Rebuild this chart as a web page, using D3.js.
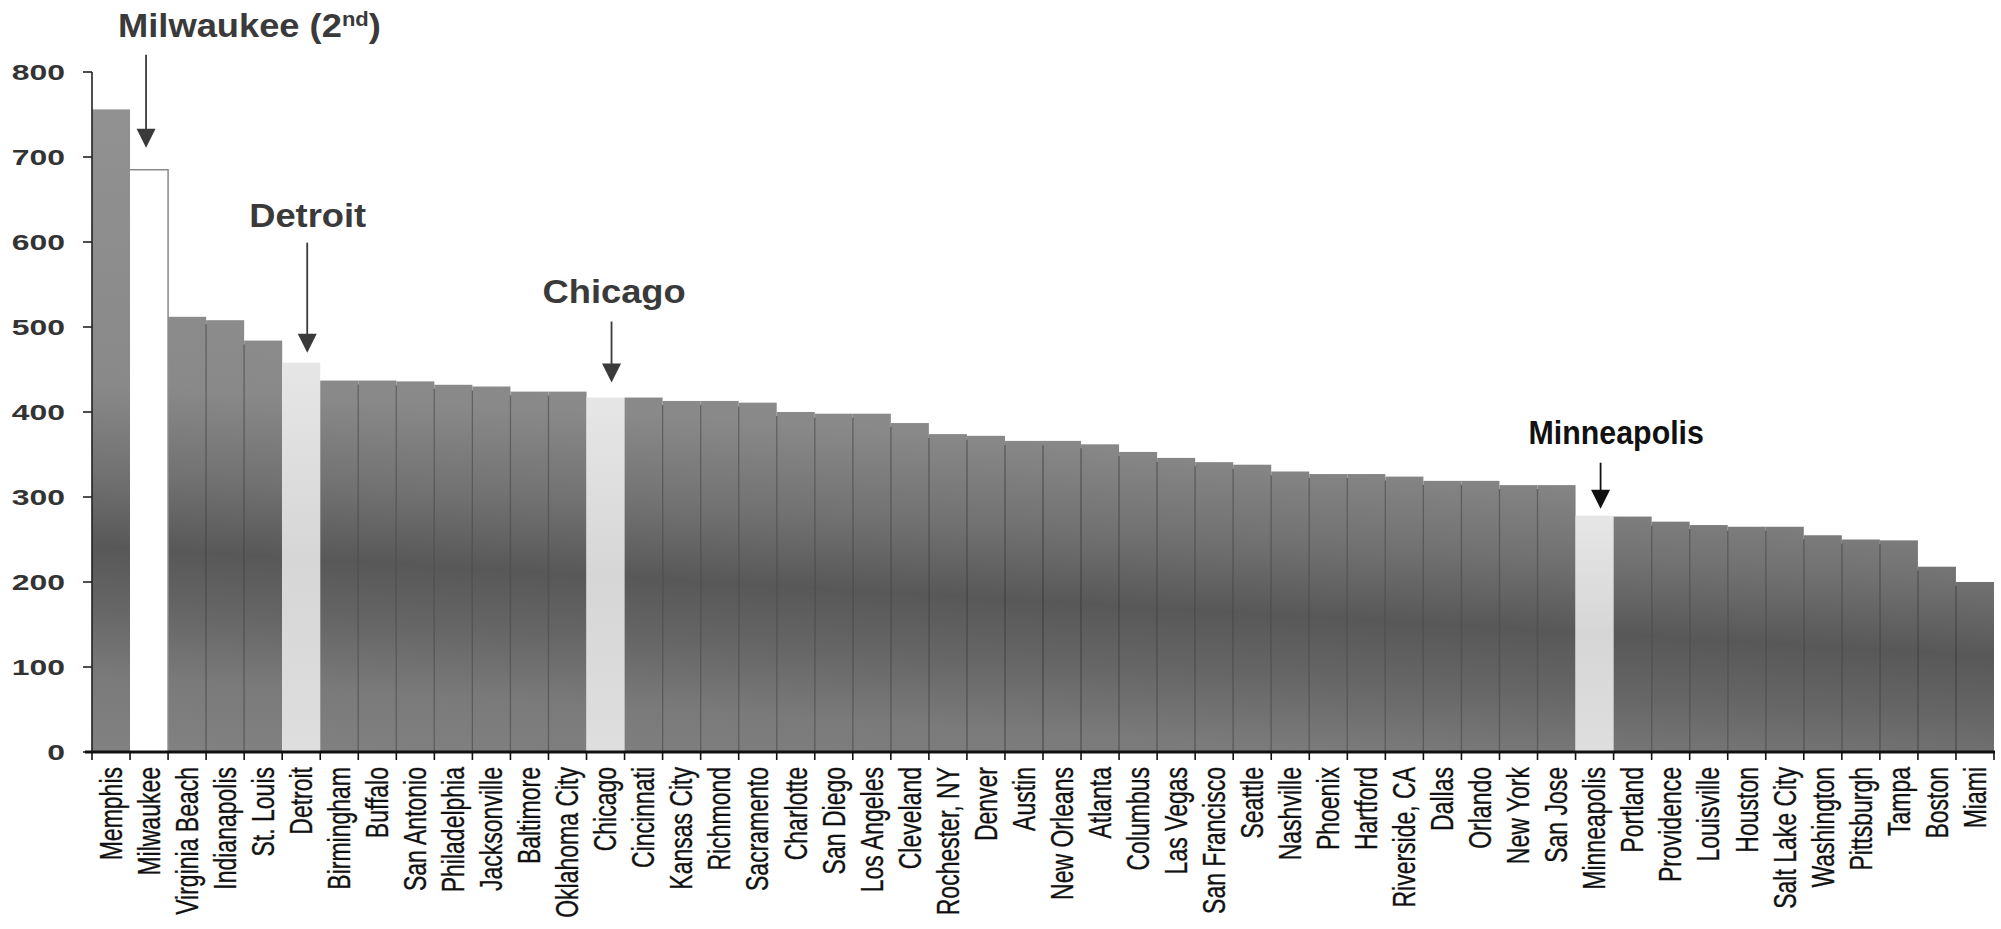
<!DOCTYPE html>
<html><head><meta charset="utf-8">
<script src="https://cdn.jsdelivr.net/npm/d3@7"></script>
<style>html,body{margin:0;padding:0;background:#fff;} svg{display:block;}</style>
</head><body>
<svg id="chart" width="2001" height="929"></svg>
<script>
// ---------- data ----------
const cities = ["Memphis","Milwaukee","Virginia Beach","Indianapolis","St. Louis","Detroit","Birmingham","Buffalo","San Antonio","Philadelphia","Jacksonville","Baltimore","Oklahoma City","Chicago","Cincinnati","Kansas City","Richmond","Sacramento","Charlotte","San Diego","Los Angeles","Cleveland","Rochester, NY","Denver","Austin","New Orleans","Atlanta","Columbus","Las Vegas","San Francisco","Seattle","Nashville","Phoenix","Hartford","Riverside, CA","Dallas","Orlando","New York","San Jose","Minneapolis","Portland","Providence","Louisville","Houston","Salt Lake City","Washington","Pittsburgh","Tampa","Boston","Miami"];
const values = [756,685,512,508,484,458,437,437,436,432,430,424,424,417,417,413,413,411,400,398,398,387,374,372,366,366,362,353,346,341,338,330,327,327,324,319,319,314,314,278,277,271,267,265,265,255,250,249,218,200];
const whiteCities = ["Milwaukee"];
const lightCities = ["Detroit","Chicago","Minneapolis"];
const yTickValues = [0,100,200,300,400,500,600,700,800];
const annotCities = ["Milwaukee","Detroit","Chicago","Minneapolis"];
const annotLabels = ["Milwaukee (2","Detroit","Chicago","Minneapolis"];
const annotSup = ["nd","","",""];
const annotTail = [")","","",""];

// ---------- layout ----------
const X0 = 92, X1 = 1994, Y0 = 752, YTOP = 72;
const annotLayout = {
  "Milwaukee":   {adx:-3, gap:22, len:93,  tdx:-28, tdy:18, sx:1.1,  color:"#3a3a3a"},
  "Detroit":     {adx:6,  gap:10, len:110, tdx:-58, tdy:16, sx:1.1,  color:"#3a3a3a"},
  "Chicago":     {adx:6,  gap:15, len:61,  tdx:-69, tdy:19, sx:1.1,  color:"#3a3a3a"},
  "Minneapolis": {adx:6,  gap:7,  len:46,  tdx:-72, tdy:19, sx:0.92, color:"#111111"}
};

const svg = d3.select("#chart");
const x = d3.scaleBand().domain(cities).range([X0, X1]).padding(0);
const y = d3.scaleLinear().domain([0, 800]).range([Y0, YTOP]);
const data = cities.map((c, i) => ({city: c, value: values[i]}));

// gradient for scanned-gray bars (dark band tilting down to the right)
const defs = svg.append("defs");
const g = defs.append("linearGradient").attr("id","barGrad")
  .attr("gradientUnits","userSpaceOnUse")
  .attr("x1",0).attr("y1",YTOP).attr("x2",0).attr("y2",Y0)
  .attr("gradientTransform","skewY(3.3)");
[[0,"#929292"],[0.45,"#898989"],[0.58,"#727272"],[0.69,"#585858"],[0.78,"#666666"],[0.88,"#7a7a7a"],[1,"#828282"]]
  .forEach(([o,c]) => g.append("stop").attr("offset",o).attr("stop-color",c));
const lg = defs.append("linearGradient").attr("id","lightGrad").attr("x1",0).attr("y1",0).attr("x2",0).attr("y2",1);
[[0,"#e6e6e6"],[0.5,"#d6d6d6"],[1,"#dedede"]].forEach(([o,c]) => lg.append("stop").attr("offset",o).attr("stop-color",c));

// bars
svg.append("g").selectAll("rect").data(data).join("rect")
  .attr("x", d => x(d.city))
  .attr("y", d => y(d.value))
  .attr("width", x.bandwidth())
  .attr("height", d => y(0) - y(d.value))
  .attr("fill", d => whiteCities.includes(d.city) ? "#ffffff" : lightCities.includes(d.city) ? "url(#lightGrad)" : "url(#barGrad)");

// white bar outline
data.filter(d => whiteCities.includes(d.city)).forEach(d => {
  const x0 = x(d.city), x1 = x0 + x.bandwidth(), yt = y(d.value);
  svg.append("path").attr("d", `M${x0},${yt} H${x1} V${y(0)}`)
    .attr("fill","none").attr("stroke","#8a8a8a").attr("stroke-width",1.5);
});

// separators between adjacent gray bars
const sepG = svg.append("g");
for (let i = 0; i < data.length - 1; i++) {
  const a = data[i], b = data[i+1];
  const special = c => whiteCities.includes(c) || lightCities.includes(c);
  if (special(a.city) || special(b.city)) continue;
  const xs = x(b.city);
  sepG.append("line").attr("x1",xs).attr("x2",xs)
    .attr("y1", y(Math.min(a.value,b.value)) + 4).attr("y2", y(0))
    .attr("stroke","#2a2a2a").attr("stroke-opacity",0.55).attr("stroke-width",1.2);
}

// y axis
const yAxisG = svg.append("g").attr("transform",`translate(${X0},0)`);
yAxisG.append("line").attr("x1",0).attr("x2",0).attr("y1",y(800)).attr("y2",y(0))
  .attr("stroke","#222").attr("stroke-width",1.6);
yTickValues.forEach(v => {
  yAxisG.append("line").attr("x1",-9).attr("x2",0).attr("y1",y(v)).attr("y2",y(v))
    .attr("stroke","#222").attr("stroke-width",1.6);
  yAxisG.append("text")
    .attr("transform",`translate(${-27},${y(v)}) scale(1.45,1)`)
    .attr("text-anchor","end").attr("dominant-baseline","central")
    .attr("font-family","'Liberation Sans', Arial, sans-serif").attr("font-weight","bold")
    .attr("font-size",22).attr("fill","#333").text(v);
});

// x axis
const xAxisG = svg.append("g");
xAxisG.append("line").attr("x1",X0-7).attr("x2",X1+1).attr("y1",y(0)).attr("y2",y(0))
  .attr("stroke","#111").attr("stroke-width",3);
const bounds = cities.map(c => x(c)).concat([x(cities[cities.length-1]) + x.bandwidth()]);
bounds.forEach(bx => {
  xAxisG.append("line").attr("x1",bx).attr("x2",bx).attr("y1",y(0)).attr("y2",y(0)+8)
    .attr("stroke","#111").attr("stroke-width",1.6);
});
cities.forEach(c => {
  xAxisG.append("text")
    .attr("transform",`translate(${x(c) + x.bandwidth()/2},${y(0)+15}) rotate(-90) scale(1,1.35)`)
    .attr("text-anchor","end").attr("dominant-baseline","central")
    .attr("font-family","'Liberation Sans', Arial, sans-serif")
    .attr("font-size",23).attr("fill","#111").attr("stroke","#111").attr("stroke-width",0.25)
    .text(c);
});

// annotations
annotCities.forEach((c, i) => {
  const L = annotLayout[c];
  const d = data.find(e => e.city === c);
  const ax = x(c) + x.bandwidth()/2 + L.adx;
  const tip = y(d.value) - L.gap;
  const top = tip - L.len;
  svg.append("line").attr("x1",ax).attr("x2",ax).attr("y1",top).attr("y2",tip-10)
    .attr("stroke",L.color).attr("stroke-width",1.8);
  svg.append("path").attr("d",`M${ax-9.5},${tip-19} L${ax+9.5},${tip-19} L${ax},${tip} Z`)
    .attr("fill",L.color);
  const t = svg.append("text")
    .attr("transform",`translate(${ax + L.tdx},${top - L.tdy}) scale(${L.sx},1)`)
    .attr("font-family","'Liberation Sans', Arial, sans-serif").attr("font-weight","bold")
    .attr("font-size",33).attr("fill",L.color);
  t.append("tspan").text(annotLabels[i]);
  if (annotSup[i]) {
    t.append("tspan").attr("font-size",20).attr("dy",-11).text(annotSup[i]);
    t.append("tspan").attr("dy",11).text(annotTail[i]);
  }
});
</script>
</body></html>
